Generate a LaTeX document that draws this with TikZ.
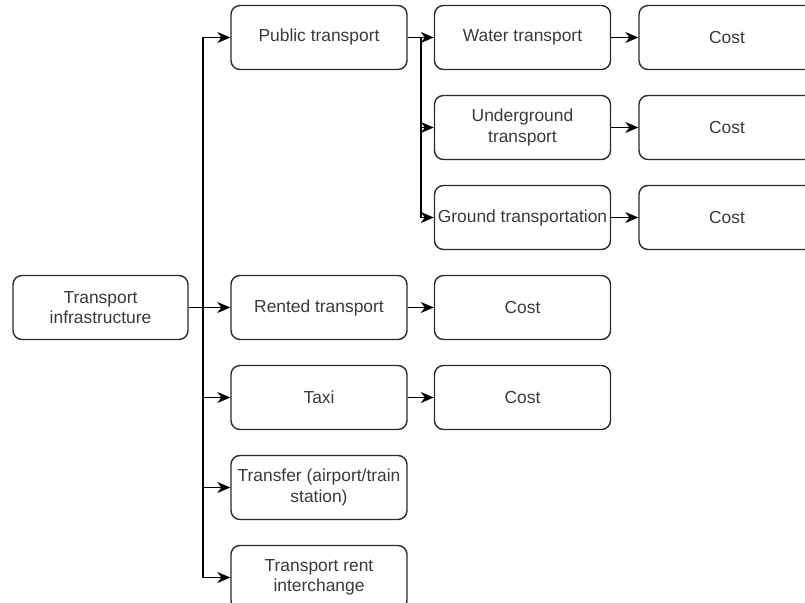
\documentclass[tikz,border=0pt]{standalone}
\usepackage{fontspec}
\setmainfont{Liberation Sans}
\usetikzlibrary{arrows.meta}
\definecolor{edge}{HTML}{2B2B2B}
\definecolor{ink}{HTML}{3A3A3A}
\tikzset{
  box/.style={draw=edge, line width=1.4pt, rounded corners=9pt, fill=white,
    minimum width=176pt, minimum height=64pt, inner sep=2pt,
    align=center, text=ink, font=\fontsize{17.4}{20.5}\selectfont},
  link/.style={draw=black, line width=1.5pt,
    -{Stealth[length=13pt,width=11pt,inset=4pt]}},
}
\begin{document}
\begin{tikzpicture}[x=1pt,y=-1pt]
\useasboundingbox (0,0) rectangle (805,602);
\clip (0,0) rectangle (805,602);
\fill[white] (0,0) rectangle (805,602);

% root
\node[box, minimum width=175pt] (infra) at (100.5,307.5) {Transport\\infrastructure};

% second column
\node[box] (pub)    at (319,37.5)  {Public transport};
\node[box] (rent)   at (319,307.5) {Rented transport};
\node[box] (taxi)   at (319,397.5) {Taxi};
\node[box] (trans)  at (319,487.5) {Transfer (airport/train\\station)};
\node[box] (inter)  at (319,577.5) {Transport rent\\interchange};

% third column
\node[box] (water)  at (522.5,37.5)  {Water transport};
\node[box] (under)  at (522.5,127.5) {Underground\\transport};
\node[box] (ground) at (522.5,217.5) {Ground transportation};
\node[box] (crent)  at (522.5,307.5) {Cost};
\node[box] (ctaxi)  at (522.5,397.5) {Cost};

% fourth column
\node[box] (cwater)  at (727,37.5)  {Cost};
\node[box] (cunder)  at (727,127.5) {Cost};
\node[box] (cground) at (727,217.5) {Cost};

% branch points
\coordinate (j1) at (203,307.5);
\coordinate (j2) at (421,37.5);

% root to second column
\draw[link] (infra.east) -- (j1) |- (pub.west);
\draw[link] (infra.east) -- (rent.west);
\draw[link] (j1) |- (taxi.west);
\draw[link] (j1) |- (trans.west);
\draw[link] (j1) |- (inter.west);

% public transport branches
\draw[link] (pub.east) -- (water.west);
\draw[link] (j2) |- (under.west);
\draw[link] (j2) |- (ground.west);

% costs
\draw[link] (water.east) -- (cwater.west);
\draw[link] (under.east) -- (cunder.west);
\draw[link] (ground.east) -- (cground.west);
\draw[link] (rent.east) -- (crent.west);
\draw[link] (taxi.east) -- (ctaxi.west);
\end{tikzpicture}
\end{document}
